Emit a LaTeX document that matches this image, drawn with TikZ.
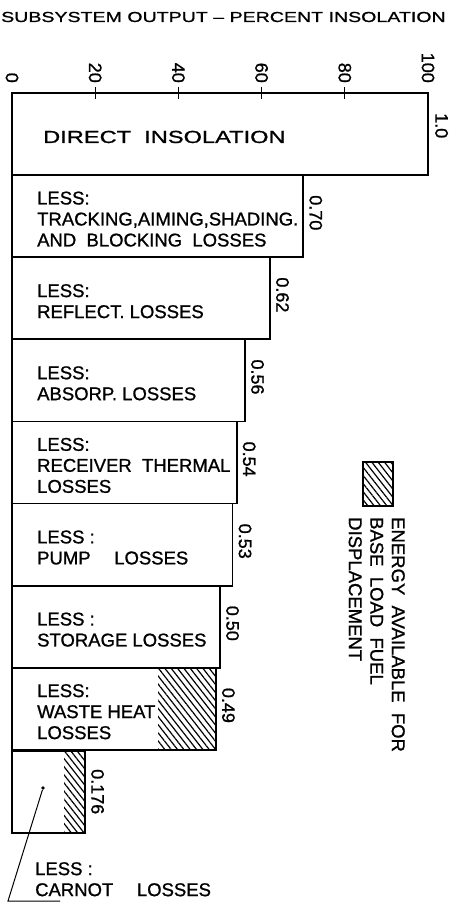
\documentclass[tikz,border=0pt]{standalone}
\usepackage{fontspec}
\usetikzlibrary{patterns.meta}
\newfontfamily\lettering[FakeBold=1]{Liberation Sans}
\newfontfamily\wideletter[FakeStretch=1.35,FakeBold=1]{Liberation Sans}
\tikzset{
  bar/.style={draw,line width=1.8pt},
  hatch/.style={pattern={Lines[angle=-52,distance=5pt,line width=1.2pt]}},
  boxtext/.style={anchor=west,inner sep=0pt,align=left,
    font=\lettering\fontsize{18.5}{21}\selectfont},
  value/.style={rotate=-90,anchor=south west,inner sep=0pt,
    font=\lettering\fontsize{18}{18}\selectfont},
}
\begin{document}
\begin{tikzpicture}[x=1pt,y=-1pt]
  \useasboundingbox (0,0) rectangle (469,904);
  % title and percent scale
  \node (title) [anchor=base west,inner sep=0pt,
        font=\wideletter\fontsize{14.5}{14.5}\selectfont]
        at (1,22) {SUBSYSTEM OUTPUT – PERCENT INSOLATION};
  \draw [line width=1.8pt] (12,93) -- (428,93);
  \foreach \p in {20,40,...,80}
    \draw [line width=1.2pt] ({12+4.16*\p},87) -- ({12+4.16*\p},99);
  \foreach \p in {0,20,...,100}
    \node (tick\p) [value,anchor=east] at ({12+4.16*\p},83) {\p};
  % direct insolation
  \draw [bar] (12,93) rectangle (428,175.1);
  \node (direct) [anchor=base west,inner sep=0pt,
        font=\wideletter\fontsize{17.5}{17.5}\selectfont]
        at (43,143) {DIRECT\ \ INSOLATION};
  \node (val0) [value] at (435,113) {1.0};
  % losses, one bar each
  \foreach \i/\p/\v/\t in {
    1/70/0.70/{LESS:\\TRACKING,AIMING,SHADING.\\AND\ \ BLOCKING\ \ LOSSES},
    2/62/0.62/{LESS:\\REFLECT.\ LOSSES},
    3/56/0.56/{LESS:\\ABSORP.\ LOSSES},
    4/54/0.54/{LESS:\\RECEIVER\ \ THERMAL\\LOSSES},
    5/53/0.53/{LESS :\\PUMP\quad\ LOSSES},
    6/50/0.50/{LESS :\\STORAGE LOSSES},
    7/49/0.49/{LESS:\\WASTE HEAT\\LOSSES}}{
    \pgfmathsetmacro\ytop{93+82.1*\i}
    \pgfmathsetmacro\ybot{\ytop+82.1}
    \pgfmathsetmacro\xr{12+4.16*\p}
    \ifnum\i=7 \fill [hatch] (158,\ytop) rectangle (\xr,\ybot); \fi
    \draw [bar] (12,\ytop) rectangle (\xr,\ybot);
    \node (bar\i) [boxtext] at (37,\ytop+44) {\t};
    \node (val\i) [value] at (\xr+6,\ytop+20) {\v};
  }
  % carnot losses
  \fill [hatch] (64,750.8) rectangle (85.2,832.9);
  \draw [bar] (12,750.8) rectangle (85.2,832.9);
  \node (val8) [value] at (91,769) {0.176};
  \node (dot) [circle,fill,inner sep=1.4pt] at (43,788) {};
  \node (carnot) [boxtext,anchor=north west] at (35,862)
        {LESS :\\CARNOT\quad\ LOSSES};
  \coordinate (kink) at (8,901);
  \draw [line width=1pt] (dot) -- (kink) -- (60,901);
  % key
  \node (key) [draw,hatch,line width=1.8pt,inner sep=0pt,
        minimum width=30pt,minimum height=44pt] at (378,484) {};
  \node (keytext) [rotate=-90,anchor=north west,inner sep=0pt,align=left,
        font=\lettering\fontsize{18.5}{21.5}\selectfont] at (405,517)
        {ENERGY\ \ AVAILABLE\ \ FOR\\BASE\ \ LOAD\ \ FUEL\\DISPLACEMENT};
\end{tikzpicture}
\end{document}
